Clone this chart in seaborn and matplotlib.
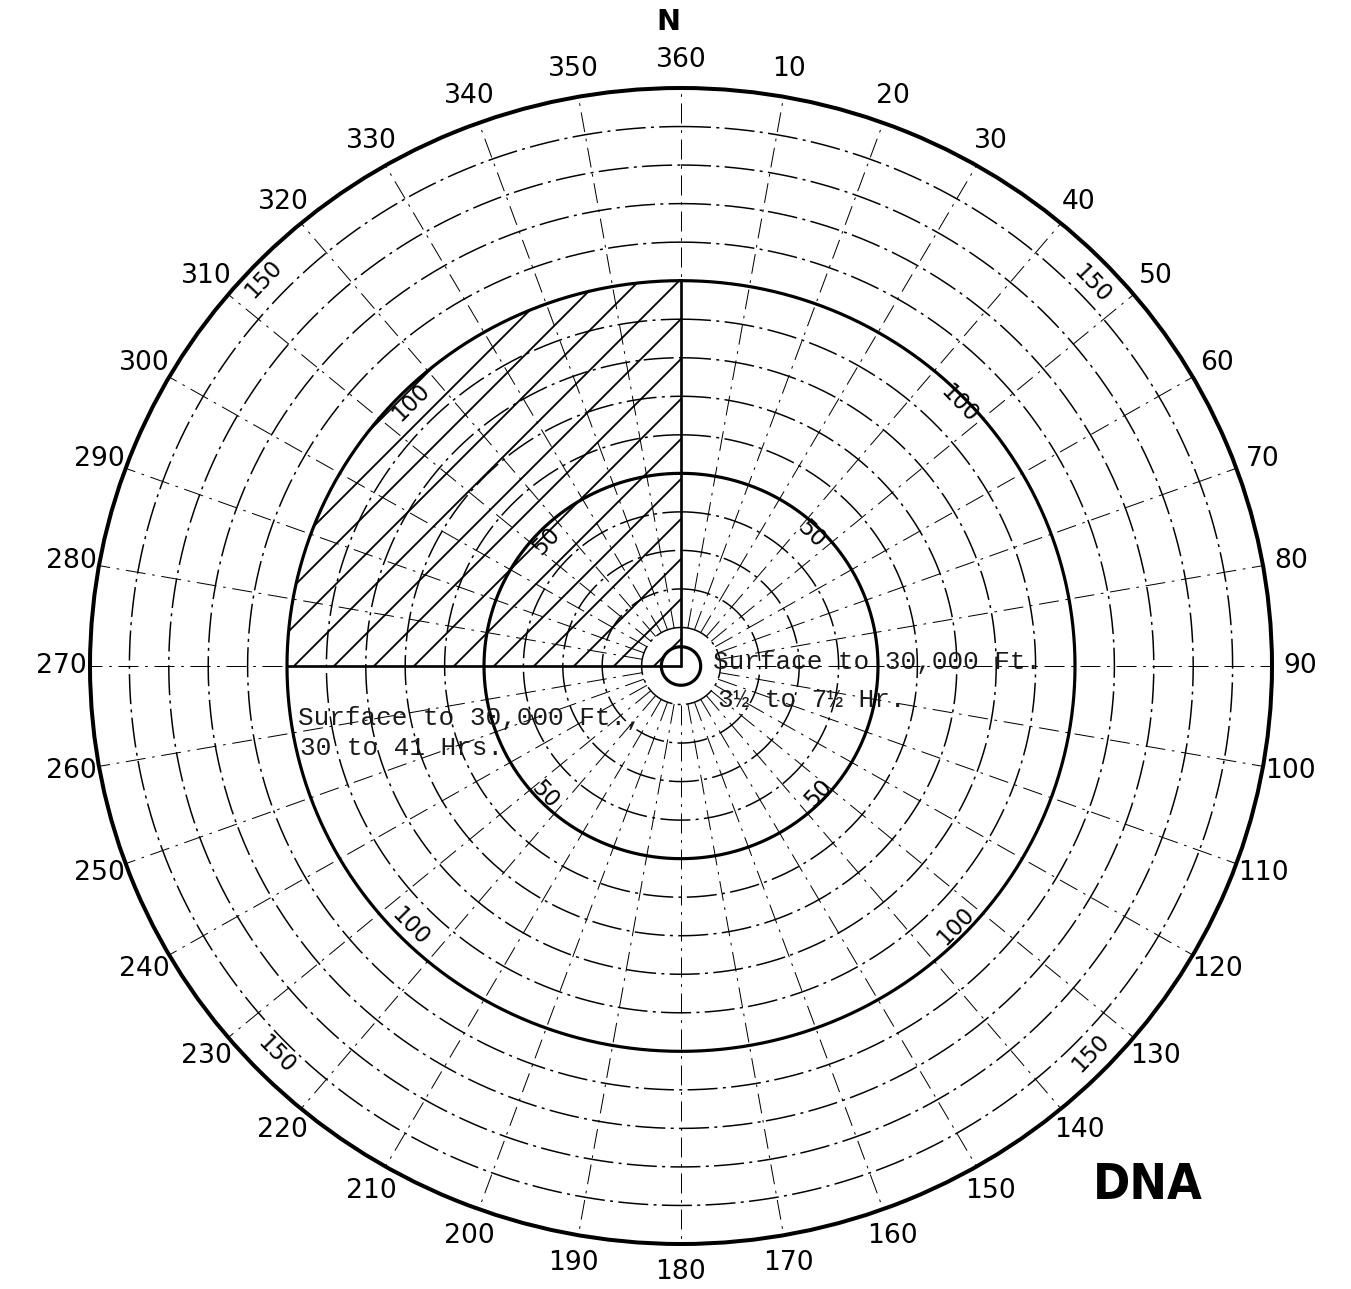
import numpy as np
import matplotlib
matplotlib.use("Agg")
import matplotlib.pyplot as plt
import seaborn as sns

# ---------------- data ----------------
bearing_ticks = list(range(0, 360, 10))
bearing_labels = ["360"] + [str(a) for a in range(10, 360, 10)]
radial_start = 10
minor_rings = [10, 20, 30, 40, 60, 70, 80, 90, 110, 120, 130, 140]
major_rings = [50, 100]
inner_ring = 5
max_range = 150
sector_start, sector_end = 270, 360
sector_range = 100
range_label_text = ["50", "50", "50", "50", "100", "100", "100", "100",
                    "150", "150", "150", "150"]
range_label_bearing = [313.5, 44, 226, 133.5, 315, 46, 225.5, 134,
                       313.5, 46.5, 225.5, 134]
range_label_r = [47, 47.5, 48, 48, 97, 98, 96.5, 97,
                 146, 144, 144, 144.5]

# ---------------- figure ----------------
W, H, DPI = 1351, 1289, 240
sns.set_style("white")
plt.rcParams["font.family"] = ["DejaVu Sans"]
plt.rcParams["lines.scale_dashes"] = False
plt.rcParams["hatch.linewidth"] = 0.55
plt.rcParams["hatch.color"] = "black"

fig = plt.figure(figsize=(W / DPI, H / DPI), dpi=DPI)
fig.patch.set_facecolor("white")
ax = fig.add_axes([90 / W, (H - 1244) / H, 1182 / W, 1156 / H], projection="polar")
ax.set_aspect("auto")
ax.set_theta_zero_location("N")
ax.set_theta_direction(-1)
ax.set_facecolor("white")

theta = np.linspace(0, 2 * np.pi, 721)
line_kw = dict(ax=ax, color="black", sort=False, estimator=None, errorbar=None)

# hatched sector
sec = np.radians(np.linspace(sector_start, sector_end, 200))
ax.fill_between(sec, 0, sector_range, facecolor="none", edgecolor="black",
                hatch="//", linewidth=0)

# radial dash-dot lines every 10 degrees
for b in bearing_ticks:
    sns.lineplot(x=np.radians([b, b]), y=[radial_start, max_range],
                 linewidth=0.3, linestyle=(0, (6, 2, 0.8, 2)), **line_kw)

# minor rings (dash-dot)
for r in minor_rings:
    sns.lineplot(x=theta, y=np.full_like(theta, r),
                 linewidth=0.45, linestyle=(0, (9, 1.6, 0.9, 1.6)), **line_kw)

# major rings
for r in major_rings:
    sns.lineplot(x=theta, y=np.full_like(theta, r), linewidth=0.95, **line_kw)
sns.lineplot(x=theta, y=np.full_like(theta, inner_ring), linewidth=0.95, **line_kw)

# sector boundary radials
for b in (sector_start, sector_end):
    sns.lineplot(x=np.radians([b, b]), y=[0, sector_range], linewidth=0.8, **line_kw)

ax.set_xlabel("")
ax.set_ylabel("")
ax.set_ylim(0, max_range)
ax.set_yticks([])
ax.set_xticks(np.radians(bearing_ticks))
ax.set_xticklabels(bearing_labels)
ax.tick_params(axis="x", pad=-1, labelsize=8, direction="out", length=2.5,
               width=0.3, colors="black")
ax.xaxis.grid(False)
ax.spines["polar"].set_linewidth(1.2)
ax.spines["polar"].set_color("black")

# range labels along the rings
for s, b, r in zip(range_label_text, range_label_bearing, range_label_r):
    rot = -b if (b < 90 or b > 270) else 180 - b
    ax.text(np.radians(b), r, s, rotation=rot, rotation_mode="anchor",
            ha="center", va="center", fontsize=6.8, color="black")

# typewritten annotations
mono = dict(family="Liberation Mono", fontsize=7.8, color="#1a1a1a", va="center",
            ha="left")
fig.text(713 / W, 1 - 662 / H, "Surface to 30,000 Ft.", **mono)
fig.text(718 / W, 1 - 700 / H, "3½ to 7½ Hr.", **mono)
fig.text(298 / W, 1 - 718 / H, "Surface to 30,000 Ft.,", **mono)
fig.text(300 / W, 1 - 748 / H, "30 to 41 Hrs.", **mono)

# N and DNA
fig.text(668 / W, 1 - 22 / H, "N", fontsize=8.6, fontweight="bold",
         ha="center", va="center", color="black")
fig.text(1148 / W, 1 - 1185 / H, "DNA", family=["DejaVu Sans"], fontstretch="condensed",
         fontsize=15, fontweight="bold", ha="center", va="center", color="black")

fig.savefig("out.png", dpi=DPI, facecolor="white")
